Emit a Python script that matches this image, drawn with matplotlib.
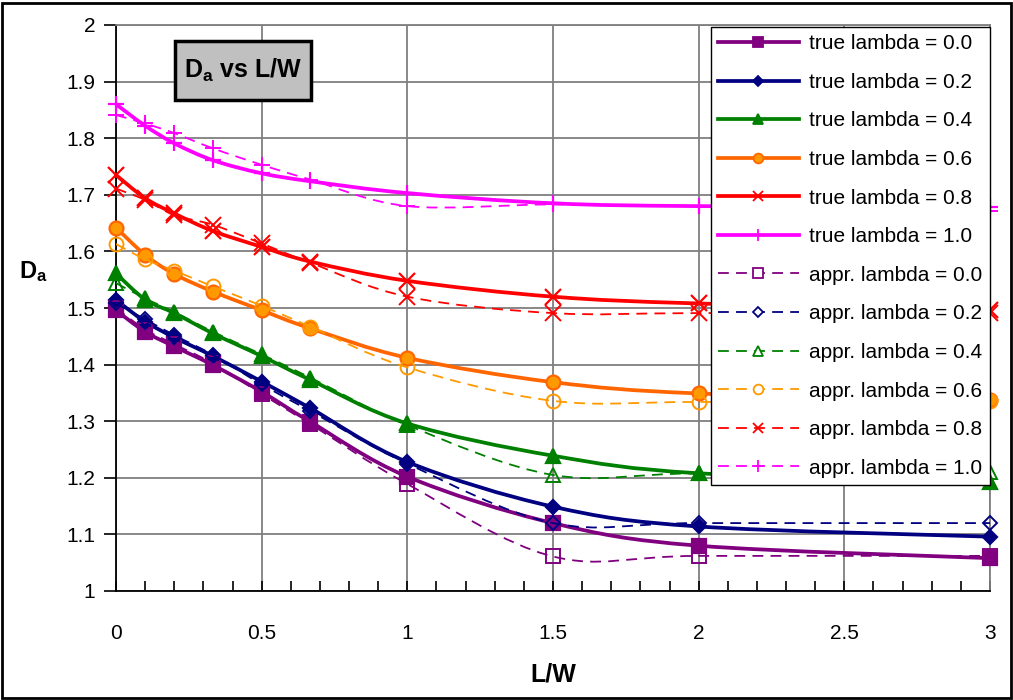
import numpy as np
import matplotlib
matplotlib.use('Agg')
import matplotlib.pyplot as plt
from matplotlib.path import Path
from matplotlib.patches import PathPatch, Rectangle
from matplotlib.lines import Line2D
from matplotlib.ticker import MultipleLocator

plt.rcParams['font.family'] = ['Liberation Sans', 'DejaVu Sans']
plt.rcParams['mathtext.fontset'] = 'custom'
plt.rcParams['mathtext.rm'] = 'Liberation Sans:bold'
plt.rcParams['mathtext.bf'] = 'Liberation Sans:bold'
plt.rcParams['mathtext.it'] = 'Liberation Sans:bold'

# L/W values
lw_ratio = [0, 0.1, 0.2, 0.333, 0.5, 0.667, 1, 1.5, 2, 3]

true_00 = [1.496, 1.458, 1.432, 1.399, 1.352, 1.299, 1.202, 1.120, 1.080, 1.058]
true_02 = [1.514, 1.476, 1.448, 1.415, 1.370, 1.323, 1.228, 1.149, 1.114, 1.096]
true_04 = [1.561, 1.515, 1.491, 1.455, 1.415, 1.373, 1.296, 1.239, 1.208, 1.193]
true_06 = [1.642, 1.594, 1.560, 1.529, 1.496, 1.464, 1.412, 1.369, 1.349, 1.337]
true_08 = [1.735, 1.694, 1.667, 1.636, 1.608, 1.582, 1.548, 1.520, 1.508, 1.496]
true_10 = [1.860, 1.822, 1.791, 1.761, 1.738, 1.724, 1.703, 1.685, 1.680, 1.678]

appr_00 = [1.500, 1.462, 1.436, 1.402, 1.348, 1.295, 1.189, 1.061, 1.062, 1.062]
appr_02 = [1.508, 1.480, 1.452, 1.417, 1.365, 1.318, 1.225, 1.120, 1.120, 1.120]
appr_04 = [1.544, 1.517, 1.493, 1.458, 1.418, 1.377, 1.293, 1.205, 1.208, 1.211]
appr_06 = [1.613, 1.586, 1.566, 1.538, 1.504, 1.467, 1.395, 1.336, 1.334, 1.336]
appr_08 = [1.711, 1.691, 1.664, 1.647, 1.614, 1.580, 1.520, 1.491, 1.491, 1.492]
appr_10 = [1.841, 1.826, 1.809, 1.782, 1.753, 1.727, 1.680, 1.683, 1.680, 1.672]

lambdas = ['0.0', '0.2', '0.4', '0.6', '0.8', '1.0']
true_series = [true_00, true_02, true_04, true_06, true_08, true_10]
appr_series = [appr_00, appr_02, appr_04, appr_06, appr_08, appr_10]

true_colors = ['#800080', '#000080', '#008000', '#FF6600', '#FF0000', '#FF00FF']
appr_colors = ['#800080', '#000080', '#008000', '#FF9900', '#FF0000', '#FF00FF']
markers = ['s', 'D', '^', 'o', 'x', '+']
msizes = [9.5, 7.5, 10.5, 10, 11, 12]


def smooth_path(x, y):
    # excel-like smoothed line: bezier segments through the points
    verts = [(x[0], y[0])]
    codes = [Path.MOVETO]
    n = len(x)
    for i in range(n - 1):
        a = i - 1 if i > 0 else i
        b = i + 2 if i + 2 < n else i + 1
        c1 = (x[i] + (x[i + 1] - x[a]) / 6, y[i] + (y[i + 1] - y[a]) / 6)
        c2 = (x[i + 1] - (x[b] - x[i]) / 6, y[i + 1] - (y[b] - y[i]) / 6)
        verts += [c1, c2, (x[i + 1], y[i + 1])]
        codes += [Path.CURVE4] * 3
    return Path(verts, codes)


fig = plt.figure(figsize=(10.13, 7.0), dpi=100)
ax = fig.add_axes([116 / 1013, 1 - 591 / 700, 874 / 1013, 566 / 700])

handles = []
z = 3
for lam, ys, col, mk, ms in zip(lambdas, true_series, true_colors, markers, msizes):
    ax.add_patch(PathPatch(smooth_path(lw_ratio, ys), fill=False, edgecolor=col,
                           lw=2.7, zorder=z, capstyle='round', joinstyle='round'))
    face = '#FF9900' if mk == 'o' else col
    ax.plot(lw_ratio, ys, linestyle='none', marker=mk, ms=ms, mfc=face, mec=col,
            mew=1.6, zorder=z + 0.5, clip_on=False)
    handles.append(Line2D([], [], color=col, lw=2.7, marker=mk, ms=ms * 0.7,
                          mfc=face, mec=col, mew=1.3,
                          label='true lambda = ' + lam))
    z += 1

for lam, ys, col, mk, ms in zip(lambdas, appr_series, appr_colors, markers, msizes):
    ax.add_patch(PathPatch(smooth_path(lw_ratio, ys), fill=False, edgecolor=col,
                           lw=1.3, linestyle=(0, (6, 4)), zorder=z))
    ax.plot(lw_ratio, ys, linestyle='none', marker=mk, ms=ms, mfc='none', mec=col,
            mew=1.4, zorder=z + 0.5, clip_on=False)
    handles.append(Line2D([], [], color=col, lw=1.3, linestyle=(0, (6, 4)),
                          marker=mk, ms=ms * 0.7, mfc='white', mec=col, mew=1.3,
                          label='appr. lambda = ' + lam))
    z += 1

ax.set_xlim(0, 3)
ax.set_ylim(1, 2)
ax.xaxis.set_minor_locator(MultipleLocator(0.1))
ax.set_xticks([0, 0.5, 1, 1.5, 2, 2.5, 3])
ax.set_xticklabels(['0', '0.5', '1', '1.5', '2', '2.5', '3'])
ax.set_yticks([1, 1.1, 1.2, 1.3, 1.4, 1.5, 1.6, 1.7, 1.8, 1.9, 2])
ax.set_yticklabels(['1', '1.1', '1.2', '1.3', '1.4', '1.5', '1.6', '1.7', '1.8', '1.9', '2'])

ax.tick_params(axis='x', which='both', direction='in', length=7, width=1.2,
               labelsize=15, pad=24)
ax.tick_params(axis='y', which='major', direction='out', length=9, width=1.2,
               labelsize=15, pad=6)
ax.grid(True, which='major', color='#7f7f7f', lw=1.3)
ax.set_axisbelow(True)
for side in ['left', 'bottom']:
    ax.spines[side].set_color('black')
    ax.spines[side].set_linewidth(1.3)
for side in ['top', 'right']:
    ax.spines[side].set_color('#7f7f7f')
    ax.spines[side].set_linewidth(1.3)

ax.set_xlabel('L/W', fontsize=18, fontweight='bold', labelpad=14)
ax.set_ylabel(r'$\mathrm{D_a}$', fontsize=17, rotation=0, ha='center', va='center')
ax.yaxis.set_label_coords(-0.095, 0.564)

# title box
ax.add_patch(Rectangle((0.0675, 0.8675), 0.1555, 0.1042, transform=ax.transAxes,
                       facecolor='#C0C0C0', edgecolor='black', lw=2.5, zorder=20))
ax.text(0.1455, 0.9196, r'$\mathrm{D_a}$ vs L/W', transform=ax.transAxes,
        ha='center', va='center', fontsize=18, fontweight='bold', zorder=21)

leg = ax.legend(handles=handles, loc='upper right', bbox_to_anchor=(1.0, 0.9965),
                fontsize=15, handlelength=3.9, handletextpad=0.5, borderpad=0.35,
                labelspacing=0.94, borderaxespad=0, fancybox=False, framealpha=1,
                edgecolor='black')
leg.get_frame().set_linewidth(1.0)
leg.set_zorder(30)

# chart border
fig.patches.append(Rectangle((0.002, 0.003), 0.996, 0.993, transform=fig.transFigure,
                             fill=False, edgecolor='black', lw=2))

fig.savefig('out.png', dpi=100)
